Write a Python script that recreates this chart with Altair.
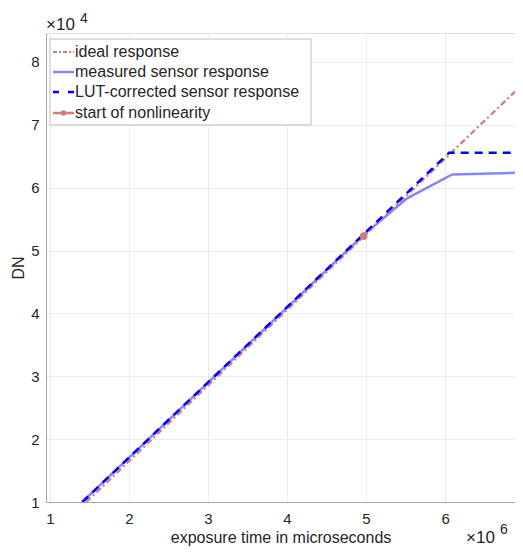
import altair as alt
import pandas as pd

# data (x in 1e6 microseconds, y in 1e4 DN)
ideal_x = [1.46, 6.97]
ideal_y = [1.0, 7.63]
meas_x = [1.41, 4.97, 5.52, 6.09, 6.97]
meas_y = [1.0, 5.25, 5.83, 6.21, 6.24]
lut_x = [1.41, 4.97, 6.05, 6.97]
lut_y = [1.0, 5.26, 6.5535, 6.5535]
start_x = [4.97]
start_y = [5.23]
x_ticks = [1, 2, 3, 4, 5, 6]
y_ticks = [1, 2, 3, 4, 5, 6, 7, 8]
legend_labels = ["ideal response", "measured sensor response",
                 "LUT-corrected sensor response", "start of nonlinearity"]

FONT = "Liberation Sans"
W, H = 469, 469
XD = [0.95, 6.885]
YD = [1.0, 8.46]

xs = alt.Scale(domain=XD, nice=False, zero=False)
ys = alt.Scale(domain=YD, nice=False, zero=False)

xax = alt.Axis(values=x_ticks, format="d", grid=True, gridColor="#ebebeb",
               domainColor="#a6a6a6", ticks=False, labelPadding=9,
               labelFontSize=15, labelColor="#262626", labelFont=FONT,
               title="exposure time in microseconds", titleFont=FONT,
               titleFontSize=16, titleFontWeight="normal", titleColor="#262626",
               titlePadding=3)
yax = alt.Axis(values=y_ticks, format="d", grid=True, gridColor="#ebebeb",
               domainColor="#a6a6a6", ticks=False, labelPadding=7,
               labelFontSize=15, labelColor="#262626", labelFont=FONT,
               title="DN", titleFont=FONT, titleFontSize=16,
               titleFontWeight="normal", titleColor="#262626", titleX=-20)

d_ideal = pd.DataFrame({"x": ideal_x, "y": ideal_y})
d_meas = pd.DataFrame({"x": meas_x, "y": meas_y})
d_lut = pd.DataFrame({"x": lut_x, "y": lut_y})
d_start = pd.DataFrame({"x": start_x, "y": start_y})

RED = "#cd7f7f"
LBLUE = "#8585ff"
BLUE = "#0000ff"

meas = alt.Chart(d_meas).mark_line(color=LBLUE, strokeWidth=2.5, clip=True).encode(
    x=alt.X("x:Q", scale=xs, axis=xax), y=alt.Y("y:Q", scale=ys, axis=yax))
ideal = alt.Chart(d_ideal).mark_line(color=RED, strokeWidth=2.3, strokeDash=[6, 3, 2, 3], clip=True).encode(
    x=alt.X("x:Q", scale=xs), y=alt.Y("y:Q", scale=ys))
lut = alt.Chart(d_lut).mark_line(color=BLUE, strokeWidth=2.5, strokeDash=[8, 6], clip=True).encode(
    x=alt.X("x:Q", scale=xs), y=alt.Y("y:Q", scale=ys))
pt = alt.Chart(d_start).mark_point(filled=True, color=RED, size=60, opacity=1).encode(
    x=alt.X("x:Q", scale=xs), y=alt.Y("y:Q", scale=ys))


def txt(t, x, y, size=15):
    return alt.Chart(pd.DataFrame({"t": [t]})).mark_text(
        font=FONT, fontSize=size, color="#262626", align="left", baseline="middle").encode(
        text="t:N", x=alt.value(x), y=alt.value(y))


def one():
    return alt.Chart(pd.DataFrame({"a": [0]}))


# exponent labels
exps = [txt("×10", 0, -8, 17), txt("4", 34, -14, 14),
        txt("×10", 420, H + 36, 17), txt("6", 454, H + 28, 14)]

# legend (plot-area pixel coordinates)
box = one().mark_rect(fill="white", stroke="#bdbdbd", strokeWidth=1).encode(
    x=alt.value(4), x2=alt.value(265), y=alt.value(6), y2=alt.value(92))
rows = [19, 39, 59, 80]
leg = [
    one().mark_rule(color=RED, strokeWidth=2, strokeDash=[4, 2, 2, 2]).encode(
        x=alt.value(7), x2=alt.value(28), y=alt.value(rows[0])),
    one().mark_rule(color=LBLUE, strokeWidth=2.5).encode(
        x=alt.value(7), x2=alt.value(28), y=alt.value(rows[1])),
    one().mark_rule(color=BLUE, strokeWidth=2.5, strokeDash=[6, 9]).encode(
        x=alt.value(7), x2=alt.value(28), y=alt.value(rows[2])),
    one().mark_rule(color=RED, strokeWidth=2.5).encode(
        x=alt.value(7), x2=alt.value(28), y=alt.value(rows[3])),
    one().mark_point(filled=True, color=RED, size=30, opacity=1).encode(
        x=alt.value(17.5), y=alt.value(rows[3])),
]
leg += [txt(lab, 29, r, 16) for lab, r in zip(legend_labels, rows)]

chart = alt.layer(meas, ideal, lut, pt, *exps, box, *leg).properties(
    width=W, height=H,
    padding={"left": 38, "top": 25, "right": 0, "bottom": 44},
    autosize=alt.AutoSizeParams(type="none"),
).configure_view(stroke=None).configure(background="white")

chart.save("out.html", embed_options={"renderer": "svg", "actions": False})
